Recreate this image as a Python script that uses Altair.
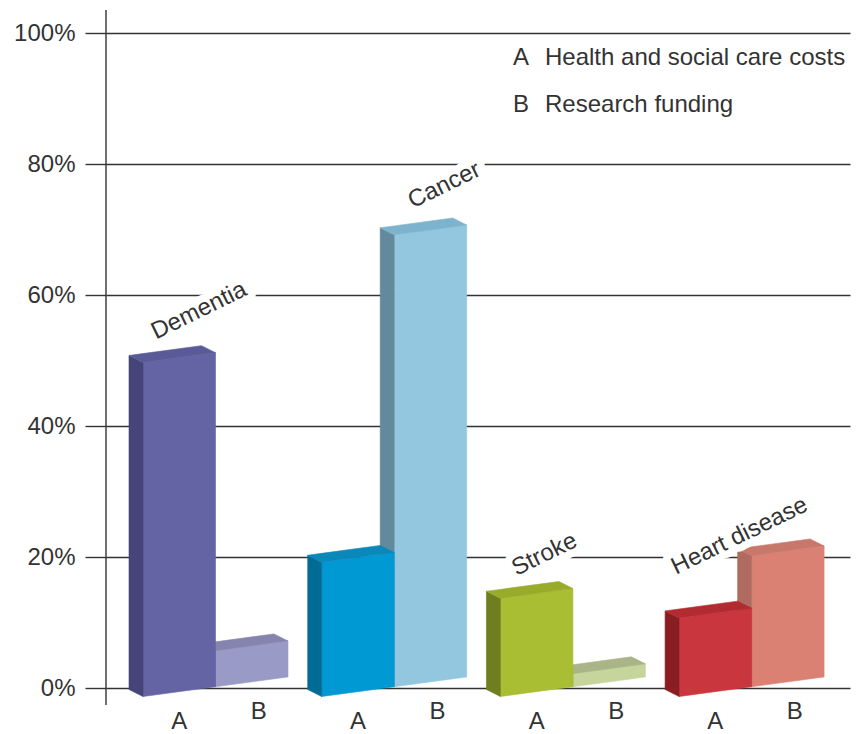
import altair as alt
import pandas as pd

# ---- chart values -------------------------------------------------------
categories = ["Dementia", "Cancer", "Stroke", "Heart disease"]
series_keys = ["A", "B"]
series_names = ["Health and social care costs", "Research funding"]
care_costs = [51, 20.5, 15, 12]          # series A, % share
research_funding = [5.5, 69, 2, 20]      # series B, % share

# face colours per category: (front, side, top) for A then B
palette = {
    "Dementia": [("#6464a5", "#45457a", "#5a5a98"), ("#9a9ac6", "#6f6f9a", "#8484ae")],
    "Cancer": [("#0099d3", "#006c96", "#0a88ba"), ("#93c6df", "#628a9c", "#7db3cc")],
    "Stroke": [("#a9be32", "#6f7f1f", "#98ab2a"), ("#c6d59c", "#8e9a6a", "#a9b487")],
    "Heart disease": [("#c9363e", "#8a1d22", "#b12b31"), ("#db8174", "#b06b60", "#c8776b")],
}

# ---- pseudo-3D box geometry (x in plot pixels, y in percent) ------------
PLOT_W, PLOT_H = 744, 655
PX_PER_PCT = PLOT_H / 100.0
BAR_W = 72.5
GROUP_STEP = 178.7
FIRST_X = 37
DEPTH_DX = -14                      # back face shift, px
DEPTH_DY = 7 / PX_PER_PCT           # back face lift, %
SLOPE = 0.135 / PX_PER_PCT          # rise of "horizontal" edges, % per px
GROUND = -1.3                       # front-bottom corner of each group, %

# label placement relative to each group's left edge and tallest bar
label_dx = [13, 91, 16, -3]
label_lift = [3.5, 4.0, 3.4, -2.9]

faces = {"A": [], "B": []}
bar_labels = []
cat_labels = []

for g, cat in enumerate(categories):
    X = FIRST_X + g * GROUP_STEP
    values = [care_costs[g], research_funding[g]]
    tops = []
    for s, key in enumerate(series_keys):
        v = values[s]
        front, side, top = palette[cat][s]
        xl = X + s * BAR_W
        xr = xl + BAR_W
        base = GROUND + SLOPE * (xl - X)
        base_r = base + SLOPE * BAR_W
        fid = f"{cat}-{key}"
        rows = faces[key]
        # front face
        rows += [
            dict(face=fid + "-front", colour=front, x=xl, lo=base, hi=base + v),
            dict(face=fid + "-front", colour=front, x=xr, lo=base_r, hi=base_r + v),
        ]
        # left side face
        rows += [
            dict(face=fid + "-side", colour=side, x=xl + DEPTH_DX, lo=base + DEPTH_DY, hi=base + v + DEPTH_DY),
            dict(face=fid + "-side", colour=side, x=xl, lo=base, hi=base + v),
        ]
        # top face
        t_fl, t_fr = base + v, base_r + v
        t_bl, t_br = t_fl + DEPTH_DY, t_fr + DEPTH_DY
        rows += [
            dict(face=fid + "-top", colour=top, x=xl + DEPTH_DX, lo=t_bl, hi=t_bl),
            dict(face=fid + "-top", colour=top, x=xl, lo=t_fl, hi=t_bl - SLOPE * DEPTH_DX),
            dict(face=fid + "-top", colour=top, x=xr + DEPTH_DX, lo=t_fl + SLOPE * (BAR_W + DEPTH_DX), hi=t_br),
            dict(face=fid + "-top", colour=top, x=xr, lo=t_fr, hi=t_fr),
        ]
        tops.append(t_fl)
        # series letter under the bar
        mid = xl + BAR_W / 2
        bar_labels.append(dict(text=key, x=mid + 7 * s, y=base + SLOPE * BAR_W / 2 - 30 / PX_PER_PCT))
    cat_labels.append(dict(text=cat, x=X + label_dx[g], y=max(tops) + label_lift[g]))

FONT = "Liberation Sans"
TEXT_COLOUR = "#333333"

x_scale = alt.Scale(domain=[0, PLOT_W], nice=False, zero=False)
y_scale = alt.Scale(domain=[0, 100], nice=False)

# one shared percentage axis: 21px ticks left of the line, grid across the plot
y_axis = alt.Axis(
    values=[0, 20, 40, 60, 80, 100],
    labelExpr="datum.value + '%'",
    grid=True, gridColor="#333333", gridWidth=1.4, gridOpacity=1,
    ticks=True, tickColor="#333333", tickWidth=1.4, tickSize=21,
    domain=False, labelFontSize=24, labelFont=FONT, labelColor=TEXT_COLOUR,
    labelPadding=10, title=None,
)


def X_enc(field):
    return alt.X(field, scale=x_scale, axis=None)


def Y_enc(field, **kw):
    return alt.Y(field, scale=y_scale, axis=y_axis, **kw)


def face_layer(rows):
    return alt.Chart(pd.DataFrame(rows)).mark_area(
        orient="vertical", interpolate="linear", strokeWidth=0.6
    ).encode(
        x=X_enc("x:Q"),
        y=Y_enc("lo:Q", stack=None),
        y2="hi:Q",
        detail="face:N",
        fill=alt.Fill("colour:N", scale=None),
        stroke=alt.Stroke("colour:N", scale=None),
    )


layer_b = face_layer(faces["B"])
layer_a = face_layer(faces["A"])

# y axis line, running a little past both ends of the scale
axis_line = alt.Chart(pd.DataFrame([{"x": 0, "y": -2.6, "y2": 103.5}])).mark_rule(
    color="#333333", strokeWidth=1.4
).encode(
    x=X_enc("x:Q"),
    y=Y_enc("y:Q"),
    y2="y2:Q",
)

cat_df = pd.DataFrame(cat_labels)
cat_base = alt.Chart(cat_df).encode(
    x=X_enc("x:Q"),
    y=Y_enc("y:Q"),
    text="text:N",
)
# white knockout behind the slanted category names
cat_halo = cat_base.mark_text(
    align="left", baseline="alphabetic", angle=334, font=FONT, fontSize=24,
    stroke="white", strokeWidth=15, strokeJoin="round", fill="white",
)
cat_text = cat_base.mark_text(
    align="left", baseline="alphabetic", angle=334, font=FONT, fontSize=24,
    color=TEXT_COLOUR,
)

bar_text = alt.Chart(pd.DataFrame(bar_labels)).mark_text(
    align="center", baseline="middle", font=FONT, fontSize=24, color=TEXT_COLOUR
).encode(
    x=X_enc("x:Q"),
    y=Y_enc("y:Q"),
    text="text:N",
)

# key in the top-right corner
legend_rows = []
for i, (k, name) in enumerate(zip(series_keys, series_names)):
    ly = 95.1 - i * 7.2
    legend_rows.append(dict(text=k, x=407, y=ly))
    legend_rows.append(dict(text=name, x=439, y=ly))
legend_text = alt.Chart(pd.DataFrame(legend_rows)).mark_text(
    align="left", baseline="alphabetic", font=FONT, fontSize=24, color=TEXT_COLOUR
).encode(
    x=X_enc("x:Q"),
    y=Y_enc("y:Q"),
    text="text:N",
)

chart = alt.layer(
    layer_b, layer_a, axis_line, cat_halo, cat_text, bar_text, legend_text
).properties(
    width=PLOT_W,
    height=PLOT_H,
    autosize=alt.AutoSizeParams(type="none"),
    padding={"left": 106, "top": 33, "right": 7, "bottom": 46},
    background="white",
).configure_view(stroke=None)

chart.save("out.html", embed_options={"renderer": "svg", "actions": False})
